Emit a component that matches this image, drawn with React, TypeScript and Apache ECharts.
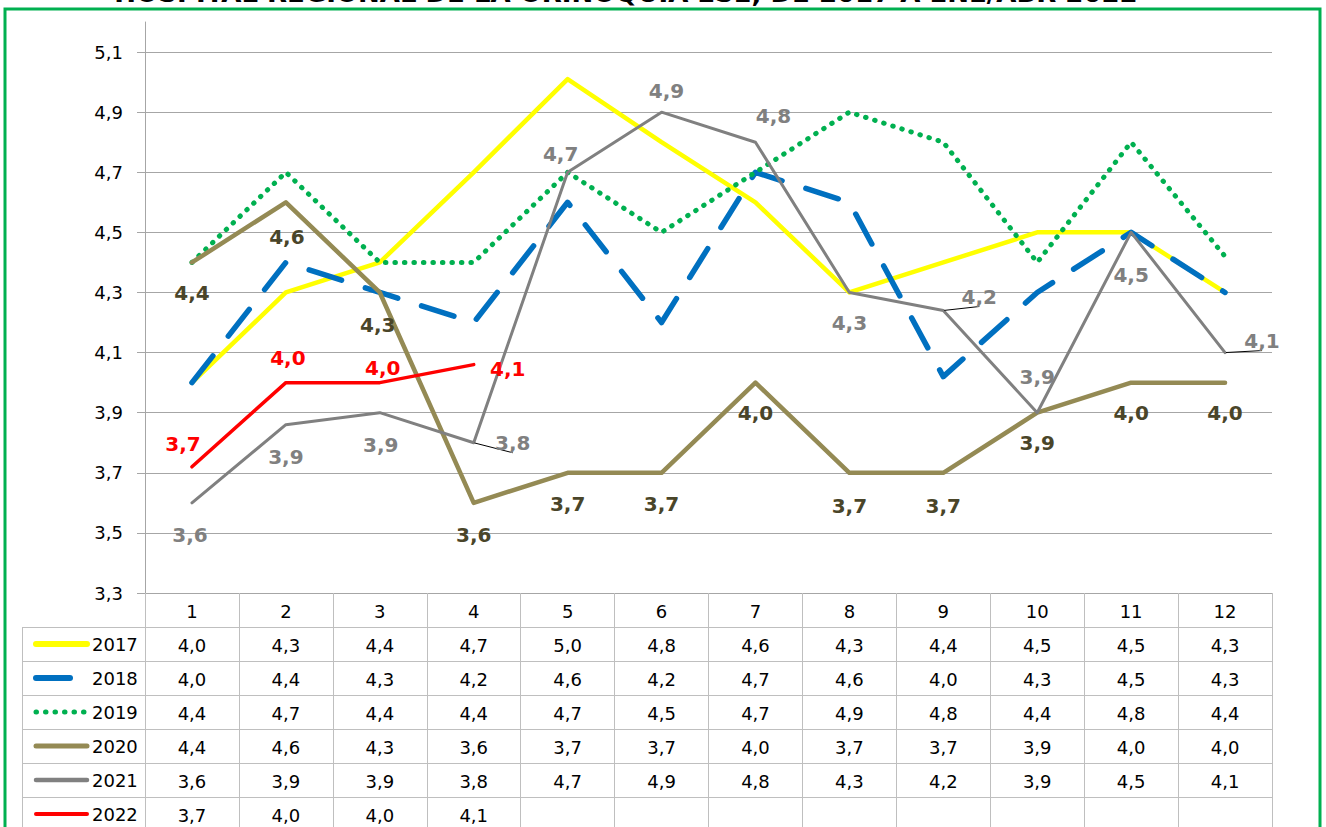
import React, { useEffect, useRef } from 'react';
import * as echarts from 'echarts';

const months = ['1', '2', '3', '4', '5', '6', '7', '8', '9', '10', '11', '12'];
const years = ['2017', '2018', '2019', '2020', '2021', '2022'];
const s2017 = [4.0, 4.3, 4.4, 4.7, 5.01, 4.8, 4.6, 4.3, 4.4, 4.5, 4.5, 4.3];
const s2018 = [4.0, 4.4, 4.3, 4.2, 4.6, 4.2, 4.7, 4.6, 4.02, 4.3, 4.5, 4.3];
const s2019 = [4.4, 4.7, 4.4, 4.4, 4.7, 4.5, 4.7, 4.9, 4.8, 4.4, 4.8, 4.42];
const s2020 = [4.4, 4.6, 4.3, 3.6, 3.7, 3.7, 4.0, 3.7, 3.7, 3.9, 4.0, 4.0];
const s2021 = [3.6, 3.86, 3.9, 3.8, 4.7, 4.9, 4.8, 4.3, 4.24, 3.9, 4.5, 4.1];
const s2022 = [3.72, 4.0, 4.0, 4.06];
const yTicks = [3.3, 3.5, 3.7, 3.9, 4.1, 4.3, 4.5, 4.7, 4.9, 5.1];
const titleText = 'HOSPITAL REGIONAL DE LA ORINOQUIA ESE, DE 2017 A ENE/ABR 2022';

const allSeries = [s2017, s2018, s2019, s2020, s2021, s2022];

// styling (label offsets relative to the point)
const off2020 = [[0, 31], [1, 35], [-2, 33], [0, 32], [0, 31], [0, 31], [0, 30], [0, 33], [0, 33], [0, 30], [0, 30], [0, 30]];
const off2021 = [[-2, 32], [0, 32], [1, 32], [39, 0], [-7, -18], [5, -21], [18, -26], [0, 31], [36, -14], [0, -36], [0, 43], [37, -12]];
const off2022 = [[-9, -23], [2, -25], [3, -15], [34, 4]];
const leaders2021 = [3, 8, 11];

const FONT = 'DejaVu Sans';
const fmt = (v: number) => v.toFixed(1).replace('.', ',');

const colors = ['#FFFF00', '#0070C0', '#00B050', '#948A54', '#808080', '#FF0000'];
const lineStyles: any[] = [
  { color: colors[0], width: 4.5, cap: 'round', join: 'round' },
  { color: colors[1], width: 5.5, type: [34, 25], cap: 'round', join: 'round' },
  { color: colors[2], width: 5, type: [0.5, 9], cap: 'round', join: 'round' },
  { color: colors[3], width: 4.5, cap: 'round', join: 'round' },
  { color: colors[4], width: 3, cap: 'round', join: 'round' },
  { color: colors[5], width: 3.5, cap: 'round', join: 'round' },
];
const legendWidths = [6, 6, 5, 5, 4.5, 4];
const labelColors = [null, null, null, '#4A4529', '#808080', '#FF0000'];
const offsets: any[] = [null, null, null, off2020, off2021, off2022];

export default function App() {
  const ref = useRef<HTMLDivElement>(null);
  useEffect(() => {
    if (!ref.current) return;
    const chart = echarts.init(ref.current, null, { renderer: 'svg' });
    const gridL = 145, gridR = 1272, axisY = 593, rowH = 34;
    const tableColor = '#BFBFBF';

    const series = allSeries.map((vals, si) => {
      const hasLabel = !!offsets[si];
      return {
        type: 'line',
        name: years[si],
        xAxisIndex: 0,
        yAxisIndex: 0,
        symbol: 'circle',
        symbolSize: 2,
        itemStyle: { color: 'rgba(0,0,0,0)' },
        lineStyle: lineStyles[si],
        emphasis: { disabled: true },
        z: 2 + si,
        label: hasLabel
          ? {
              show: true,
              position: 'inside',
              formatter: (p: any) => fmt(p.value),
              fontFamily: FONT,
              fontWeight: 'bold',
              fontSize: 20,
              color: labelColors[si],
            }
          : { show: false },
        data: vals.map((v, i) => {
          const item: any = { value: v };
          if (hasLabel) {
            item.label = { offset: offsets[si][i] };
            if (si === 4 && leaders2021.includes(i)) {
              item.labelLine = { show: true, lineStyle: { color: '#000', width: 1 } };
            }
          }
          return item;
        }),
      };
    });

    const rowAxes = allSeries.map((vals, k) => ({
      type: 'category',
      gridIndex: 0,
      position: 'bottom',
      offset: rowH * (k + 1),
      data: months.map((_, i) => (i < vals.length ? fmt(vals[i]) : '')),
      axisLine: { show: true, lineStyle: { color: tableColor, width: 1 } },
      axisTick: { show: false },
      splitLine: { show: false },
      axisLabel: { margin: 9, fontFamily: FONT, fontSize: 18, color: '#000', interval: 0 },
    }));

    const legendLines: any[] = [];
    for (let k = 0; k < 6; k++) {
      const y = axisY + rowH * (k + 1) + 0.5;
      legendLines.push({
        type: 'line',
        shape: { x1: 22, y1: y, x2: gridL, y2: y },
        style: { stroke: tableColor, lineWidth: 1 },
      });
    }
    legendLines.push({
      type: 'line',
      shape: { x1: 22.5, y1: axisY + rowH, x2: 22.5, y2: 840 },
      style: { stroke: tableColor, lineWidth: 1 },
    });

    chart.setOption({
      animation: false,
      color: colors,
      grid: { left: gridL, right: 1326 - gridR, top: 22, bottom: 827 - axisY, containLabel: false },
      legend: {
        orient: 'vertical',
        left: 33,
        top: 635,
        padding: 0,
        itemWidth: 51,
        itemHeight: 18,
        itemGap: 16,
        selectedMode: false,
        textStyle: { fontFamily: FONT, fontSize: 18, color: '#000' },
        data: years.map((y, i) => ({ name: y, lineStyle: { width: legendWidths[i] } })),
      },
      xAxis: [
        {
          type: 'category',
          data: months,
          boundaryGap: true,
          axisLine: { show: true, lineStyle: { color: '#A6A6A6', width: 1 } },
          axisTick: { show: true, interval: 0, length: 240, lineStyle: { color: tableColor, width: 1 } },
          axisLabel: { margin: 9, fontFamily: FONT, fontSize: 18, color: '#000', interval: 0 },
          splitLine: { show: false },
        },
        ...rowAxes,
      ],
      yAxis: {
        type: 'value',
        min: 3.3,
        max: 5.2,
        axisLine: { show: true, lineStyle: { color: '#A6A6A6', width: 1 } },
        axisTick: { show: true, length: 8, customValues: yTicks, lineStyle: { color: '#A6A6A6' } },
        axisLabel: {
          customValues: yTicks,
          formatter: (v: number) => fmt(v),
          margin: 22,
          fontFamily: FONT,
          fontSize: 18,
          color: '#000',
        },
        splitLine: { show: true, lineStyle: { color: '#A6A6A6', width: 1 } },
      },
      series,
      graphic: [
        {
          type: 'rect',
          shape: { x: 5, y: 9, width: 1315, height: 840 },
          style: { fill: 'none', stroke: '#00B050', lineWidth: 3 },
          z: 100,
        },
        {
          type: 'text',
          x: 626,
          y: 6,
          style: {
            text: titleText,
            font: `bold 26px "${FONT}"`,
            fill: '#000',
            align: 'center',
            verticalAlign: 'bottom',
          },
        },
        ...legendLines,
      ],
    });
    return () => chart.dispose();
  }, []);
  return (
    <div
      ref={ref}
      style={{ position: 'fixed', left: 0, top: 0, width: 1326, height: 827, background: '#fff' }}
    />
  );
}
